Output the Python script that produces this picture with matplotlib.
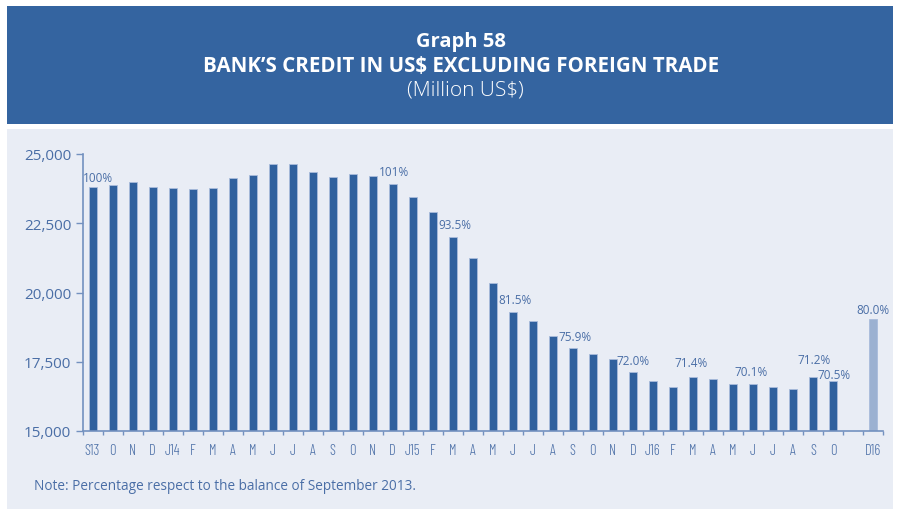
import matplotlib
matplotlib.use("Agg")
import matplotlib.pyplot as plt
from matplotlib.patches import Rectangle

# ---- data -------------------------------------------------------------
months = ["S13", "O", "N", "D", "J14", "F", "M", "A", "M", "J", "J", "A",
          "S", "O", "N", "D", "J15", "F", "M", "A", "M", "J", "J", "A",
          "S", "O", "N", "D", "J16", "F", "M", "A", "M", "J", "J", "A",
          "S", "O", "", "D16"]

credit = [23800, 23890, 23980, 23810, 23770, 23740, 23780, 24130, 24240,
          24650, 24630, 24350, 24160, 24270, 24200, 23900, 23450, 22895,
          22015, 21245, 20343, 19296, 18959, 18441, 17985, 17780, 17587,
          17118, 16793, 16576, 16937, 16889, 16685, 16685, 16576, 16516,
          16949, 16793, None, 19043]

# index of bars carrying a percentage label, and the label text
label_idx = [0, 15, 18, 21, 24, 27, 30, 33, 36, 37, 39]
label_txt = ["100%", "101%", "93.5%", "81.5%", "75.9%", "72.0%", "71.4%",
             "70.1%", "71.2%", "70.5%", "80.0%"]

projection_idx = 39  # last bar is a projection

y_ticks = [15000, 17500, 20000, 22500, 25000]

# ---- style ------------------------------------------------------------
HEADER = "#3464a0"
PANEL = "#e9edf5"
BAR = "#30619e"
BAR_PROJ = "#9bb1d1"
TEXT = "#4a6ea6"
AXIS = "#7391bf"

plt.rcParams["font.family"] = ["Open Sans", "DejaVu Sans"]
CONDENSED = ["Barlow Condensed", "Roboto", "DejaVu Sans"]

W, H = 901, 510
fig = plt.figure(figsize=(W / 100, H / 100), dpi=100)
fig.patch.set_facecolor("white")

def box(x0, y0, x1, y1, color):
    fig.patches.append(Rectangle((x0 / W, 1 - y1 / H), (x1 - x0) / W, (y1 - y0) / H,
                                 transform=fig.transFigure, facecolor=color,
                                 edgecolor="none", zorder=-10))

box(7, 7, 893, 125, HEADER)
box(7, 130, 893, 510, PANEL)

fig.text(461 / W, 1 - 42 / H, "Graph 58", ha="center", va="center",
         color="white", fontsize=14.5, fontweight="bold")
fig.text(461 / W, 1 - 67 / H, "BANK\u2019S CREDIT IN US$ EXCLUDING FOREIGN TRADE",
         ha="center", va="center", color="white", fontsize=14.8, fontweight="bold")
fig.text(465 / W, 1 - 90 / H, "(Million US$)", ha="center", va="center",
         color="white", fontsize=15, fontweight="light")

# axes: x from 82.5 to 883 px, y from 155 to 432 px
ax_l, ax_r, ax_t, ax_b = 82.5, 883, 155, 432
ax = fig.add_axes([ax_l / W, 1 - ax_b / H, (ax_r - ax_l) / W, (ax_b - ax_t) / H])
ax.set_facecolor("none")
ax.set_zorder(2)

n = len(months)
xs = list(range(n))
vals = [v if v is not None else 0 for v in credit]
colors = [BAR_PROJ if i == projection_idx else BAR for i in xs]
ax.bar(xs, vals, width=0.4, color=colors, edgecolor="#a9bcdb", linewidth=0.6,
       zorder=2)

ax.set_xlim(-0.5, n - 0.5)
ax.set_ylim(15000, 25000)

# percentage labels (offsets in px: dx, dy above the bar top)
offsets = [(5, 10), (1, 13), (2, 12), (2, 13), (2, 11.5), (0, 12), (-2, 15),
           (-2, 12.5), (1, 18), (1, 7), (0, 10)]
for (i, txt), (dx, dy) in zip(zip(label_idx, label_txt), offsets):
    ax.annotate(txt, (i, credit[i]), xytext=(dx * 0.72, dy * 0.72),
                textcoords="offset points", ha="center", va="center",
                fontsize=8.5, color=TEXT, annotation_clip=False, zorder=3)

# y axis
ax.set_yticks(y_ticks)
ax.set_yticklabels([f"{t:,}" for t in y_ticks])
ax.tick_params(axis="y", direction="out", length=5, width=1, color=AXIS,
               labelcolor=TEXT, labelsize=11, pad=3)

# x axis: tick marks on slot boundaries, labels centred on bars
ax.set_xticks([i - 0.5 for i in range(n + 1)])
ax.set_xticklabels([])
ax.tick_params(axis="x", direction="out", length=3, width=1, color=AXIS)
ax.set_xticks(xs, minor=True)
ax.set_xticklabels(months, minor=True, fontfamily=CONDENSED, fontweight=300,
                   fontsize=10.5, color=TEXT)
ax.tick_params(axis="x", which="minor", length=0, pad=9)

for side in ("top", "right"):
    ax.spines[side].set_visible(False)
for side in ("left", "bottom"):
    ax.spines[side].set_color(AXIS)
    ax.spines[side].set_linewidth(1.2)

fig.text(34 / W, 1 - 487 / H,
         "Note: Percentage respect to the balance of September 2013.",
         ha="left", va="center", color=TEXT, fontsize=9.85)

fig.savefig("out.png", dpi=100, facecolor="white")
